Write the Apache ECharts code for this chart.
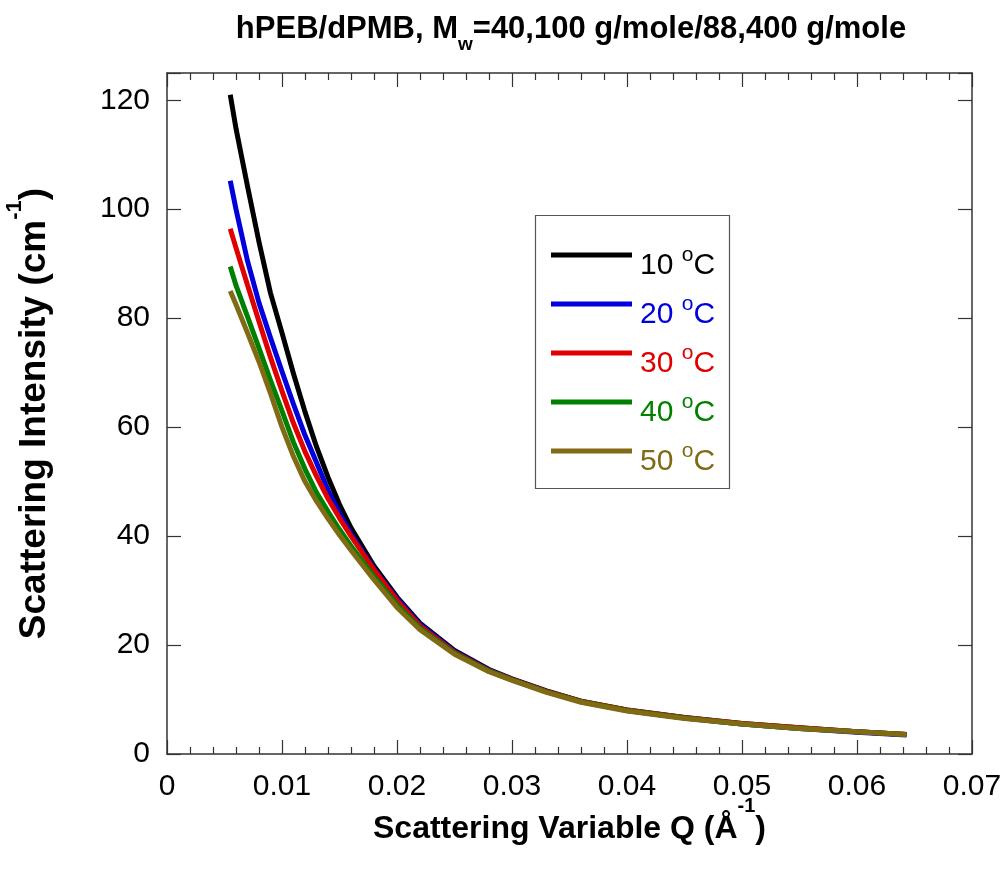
<!DOCTYPE html>
<html>
<head>
<meta charset="utf-8">
<script src="https://cdn.jsdelivr.net/npm/echarts@6/dist/echarts.min.js"></script>
<style>
html,body{margin:0;padding:0;background:#fff;}
#chart{width:1005px;height:871px;}
</style>
</head>
<body>
<div id="chart"></div>
<script>
// Scattering variable Q (1/Å)
const qValues = [0.0055,0.006,0.007,0.008,0.009,0.010,0.011,0.012,0.013,0.014,0.015,0.016,0.018,0.020,0.022,0.025,0.028,0.030,0.033,0.036,0.040,0.045,0.050,0.055,0.060,0.0643];
// Scattering intensity (1/cm) per temperature
const i10 = [121.0,114.8,104.2,94.0,84.6,77.3,69.8,62.8,56.4,50.8,45.8,41.5,34.5,28.8,24.0,19.0,15.5,13.8,11.6,9.7,8.1,6.7,5.6,4.8,4.1,3.6];
const i20 = [105.2,100.0,90.5,82.8,76.4,70.2,64.2,58.5,53.5,48.4,44.2,40.4,34.0,28.5,23.8,18.8,15.4,13.7,11.5,9.6,8.0,6.6,5.5,4.7,4.0,3.5];
const i30 = [96.4,92.9,86.1,79.4,72.8,66.6,60.7,55.5,51.0,46.9,43.3,40.0,33.8,28.2,23.5,18.7,15.3,13.7,11.5,9.7,8.1,6.7,5.6,4.8,4.1,3.6];
const i40 = [89.5,86.0,80.3,74.5,68.6,63.0,57.2,52.3,48.0,44.5,41.2,38.2,32.6,27.4,23.1,18.5,15.2,13.6,11.4,9.6,8.0,6.6,5.5,4.7,4.1,3.6];
const i50 = [85.0,82.5,77.3,72.0,66.2,60.0,54.6,50.0,46.4,43.2,40.2,37.4,32.0,26.9,22.8,18.3,15.1,13.5,11.3,9.5,7.9,6.5,5.5,4.7,4.1,3.6];
const temps = ['10','20','30','40','50'];
const seriesValues = [i10,i20,i30,i40,i50];
const colors = ['#000000','#0000dd','#e00000','#008000','#806a14'];
const xTicks = [0,0.01,0.02,0.03,0.04,0.05,0.06,0.07];
const yTicks = [0,20,40,60,80,100,120];

const FONT = '"Liberation Sans", Arial, Helvetica, sans-serif';
const axisColor = '#333';

const chart = echarts.init(document.getElementById('chart'), null, {renderer:'canvas'});

const series = seriesValues.map((vals, k) => ({
  name: temps[k] + ' oC',
  type: 'line',
  data: qValues.map((q, i) => [q, vals[i]]),
  showSymbol: false,
  smooth: false,
  lineStyle: {color: colors[k], width: 5, join: 'round', cap: 'butt'},
  itemStyle: {color: colors[k]},
  xAxisIndex: 0,
  yAxisIndex: 0,
  z: 2 + k,
  animation: false
}));

const legendTops = [243, 292, 341, 390, 439];
const legends = temps.map((t, k) => ({
  orient: 'vertical',
  left: 551,
  top: legendTops[k],
  padding: 0,
  itemWidth: 81,
  itemHeight: 5,
  icon: 'rect',
  selectedMode: false,
  data: [{name: t + ' oC', textStyle: {color: colors[k]}}],
  formatter: function (name) {
    return '{f|' + name.split(' ')[0] + ' }{s|o}{n|C}';
  },
  textStyle: {
    fontFamily: FONT,
    rich: {
      f: {fontFamily: FONT, fontSize: 30, lineHeight: 24, padding: [7.5,0,0,3], verticalAlign: 'top'},
      n: {fontFamily: FONT, fontSize: 30, lineHeight: 24, padding: [7.5,0,0,0], verticalAlign: 'top'},
      s: {fontFamily: FONT, fontSize: 21, lineHeight: 20, padding: [1.5,0,0,0], verticalAlign: 'top'}
    }
  }
}));

const option = {
  backgroundColor: '#ffffff',
  animation: false,
  title: {
    text: '{t|hPEB/dPMB, M}{w|w}{t|=40,100 g/mole/88,400 g/mole}',
    left: 566,
    textAlign: 'center',
    top: 9,
    textStyle: {
      rich: {
        t: {fontFamily: FONT, fontWeight: 'bold', fontSize: 31, color: '#000', verticalAlign: 'top', lineHeight: 34},
        w: {fontFamily: FONT, fontWeight: 'bold', fontSize: 19, color: '#000', verticalAlign: 'top', lineHeight: 20, padding: [21,0,0,0]}
      }
    }
  },
  grid: {left: 167, right: 33, top: 73, bottom: 117, containLabel: false, outerBoundsMode: 'none'},
  legend: legends,
  graphic: [{
    type: 'rect',
    shape: {x: 535.5, y: 215.5, width: 194, height: 273},
    style: {fill: 'none', stroke: '#555', lineWidth: 1.2},
    z: 1
  }],
  xAxis: [{
    type: 'value',
    position: 'bottom',
    min: 0, max: 0.07, interval: 0.01,
    minorTick: {show: true, splitNumber: 5, length: 7, lineStyle: {color: axisColor, width: 1.2}},
    axisLine: {show: true, onZero: false, lineStyle: {color: axisColor, width: 1.5}},
    axisTick: {show: true, inside: true, length: 14, lineStyle: {color: axisColor, width: 1.2}},
    splitLine: {show: false},
    axisLabel: {
      fontFamily: FONT, fontSize: 30, color: '#000', margin: 18,
      formatter: v => { const m = xTicks.find(t => Math.abs(t - v) < 1e-9); return m === undefined ? '' : String(m); }
    },
    name: '{m|Scattering Variable Q (Å}{s|-1}{m|)}',
    nameLocation: 'middle',
    nameGap: 42,
    nameMoveOverlap: false,
    nameTextStyle: {
      rich: {
        m: {fontFamily: FONT, fontWeight: 'bold', fontSize: 32, color: '#000', verticalAlign: 'bottom', lineHeight: 34},
        s: {fontFamily: FONT, fontWeight: 'bold', fontSize: 20, color: '#000', verticalAlign: 'top', lineHeight: 49}
      }
    }
  }, {
    type: 'value',
    position: 'top',
    min: 0, max: 0.07, interval: 0.01,
    minorTick: {show: true, splitNumber: 5, length: 7, lineStyle: {color: axisColor, width: 1.2}},
    axisLine: {show: true, onZero: false, lineStyle: {color: axisColor, width: 1.5}},
    axisTick: {show: true, inside: true, length: 14, lineStyle: {color: axisColor, width: 1.2}},
    splitLine: {show: false},
    axisLabel: {show: false}
  }],
  yAxis: [{
    type: 'value',
    position: 'left',
    min: 0, max: 125, interval: 20,
    axisLine: {show: true, onZero: false, lineStyle: {color: axisColor, width: 1.5}},
    axisTick: {show: true, inside: true, length: 14, lineStyle: {color: axisColor, width: 1.2}},
    splitLine: {show: false},
    axisLabel: {
      fontFamily: FONT, fontSize: 30, color: '#000', margin: 17,
      formatter: v => yTicks.indexOf(v) >= 0 ? String(v) : ''
    },
    name: '{m|Scattering Intensity (cm}{s|-1}{m|)}',
    nameLocation: 'middle',
    nameRotate: 90,
    nameGap: 114,
    nameTextStyle: {
      rich: {
        m: {fontFamily: FONT, fontWeight: 'bold', fontSize: 37, color: '#000', verticalAlign: 'bottom', lineHeight: 40},
        s: {fontFamily: FONT, fontWeight: 'bold', fontSize: 22, color: '#000', verticalAlign: 'top', lineHeight: 49}
      }
    }
  }, {
    type: 'value',
    position: 'right',
    min: 0, max: 125, interval: 20,
    axisLine: {show: true, onZero: false, lineStyle: {color: axisColor, width: 1.5}},
    axisTick: {show: true, inside: true, length: 14, lineStyle: {color: axisColor, width: 1.2}},
    splitLine: {show: false},
    axisLabel: {show: false}
  }],
  series: series
};
chart.setOption(option);
</script>
</body>
</html>
